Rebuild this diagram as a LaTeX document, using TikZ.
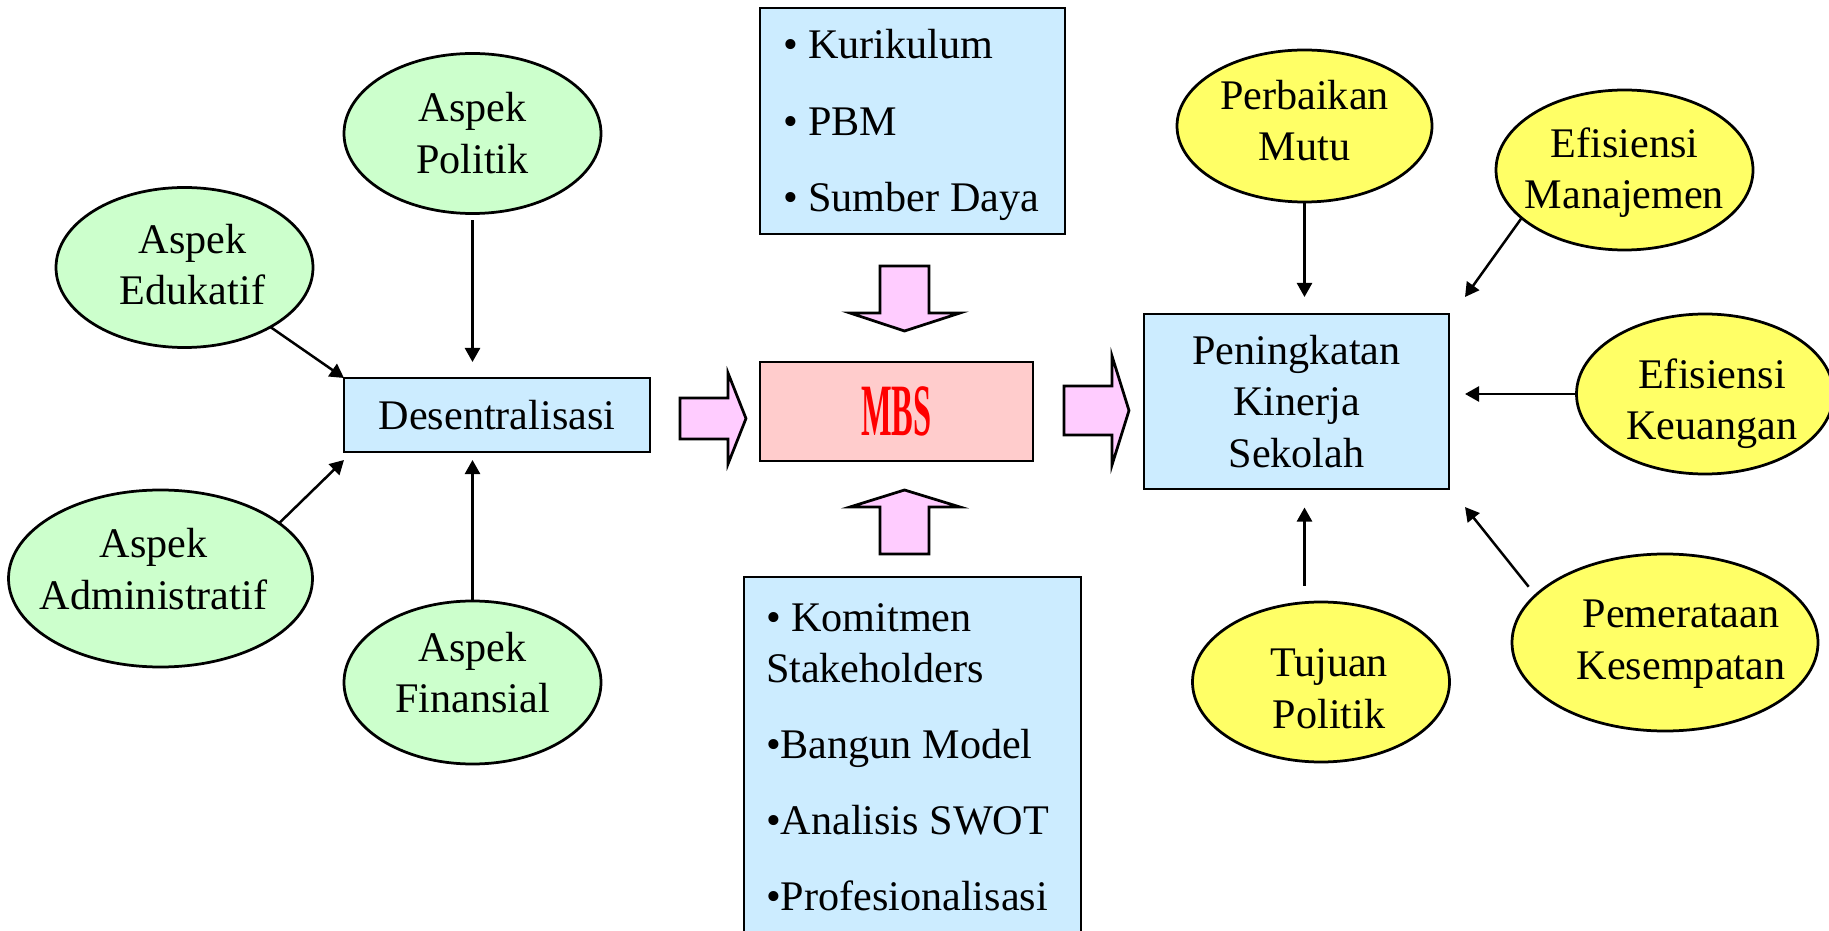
\documentclass[tikz,border=0pt]{standalone}
\usepackage{fontspec}
\setmainfont{Liberation Serif}
\usepackage{graphicx}
\usetikzlibrary{arrows.meta,shapes.geometric}
\definecolor{hijaupucat}{rgb}{0.80,1.00,0.80}
\definecolor{kuningcerah}{rgb}{1.00,1.00,0.40}
\definecolor{birupucat}{rgb}{0.80,0.925,1.00}
\definecolor{merahpucat}{rgb}{1.00,0.80,0.80}
\definecolor{ungupucat}{rgb}{1.00,0.80,1.00}
\tikzset{
  teks/.style={
    font=\fontsize{24}{29.3}\selectfont
  },
  aspek/.style={
    ellipse,
    draw,
    line width=0.55mm,
    fill=hijaupucat,
    align=center,
    inner xsep=-3mm,
    inner ysep=0pt,
    outer sep=0pt,
    minimum width=51.4mm,
    minimum height=32mm,
    text depth=0pt,
    teks
  },
  hasil/.style={
    aspek,
    fill=kuningcerah
  },
  kotak/.style={
    rectangle,
    draw,
    line width=0.5mm,
    fill=birupucat,
    align=center,
    outer sep=0pt,
    teks
  },
  daftar/.style={
    kotak,
    align=flush left,
    anchor=north west,
    inner ysep=4.4mm,
    text height=5.8mm
  },
  blok/.style={
    draw,
    line width=0.55mm,
    fill=ungupucat
  },
  panah/.style={
    -{Triangle[length=2.8mm,width=3mm]},
    line width=0.5mm
  }
}
\begin{document}
\begin{tikzpicture}[x=0.2mm,y=-0.2mm]
\useasboundingbox (0,0) rectangle (1829,931);
\clip (0,0) rectangle (1829,931);
% kiri: aspek desentralisasi
\node[kotak,minimum width=61.2mm,minimum height=14.8mm] (des) at (497,415) {Desentralisasi};
\node[aspek,text height=15.9mm] (pol) at (472.5,133.5) {Aspek\\Politik};
\node[aspek,text height=14.9mm] (edu) at (184.5,267.5) {\hspace*{3.2mm}Aspek\\\hspace*{3.2mm}Edukatif};
\node[aspek,minimum width=60.8mm,minimum height=35.4mm,text height=12.2mm] (adm) at (160.5,578.5)
  {Aspek\hspace*{2.8mm}\\Administratif\hspace*{2.8mm}};
\node[aspek,minimum height=32.6mm,text height=12mm] (fin) at (472.5,682.5) {Aspek\\Finansial};
\draw[panah,shorten <=1.4mm,shorten >=3.2mm] (pol.south) -- (pol.south |- des.north);
\draw[panah] (edu) -- (des.north west);
\draw[panah] (adm.25) -- ([yshift=-1.6mm]des.south west);
\draw[panah,shorten >=1.6mm] (fin.north) -- (fin.north |- des.south);
% tengah: MBS
\node[kotak,fill=merahpucat,minimum width=54.6mm,minimum height=19.8mm,
  text=red,font=\fontsize{42}{42}\selectfont\bfseries] (mbs) at (896.5,411.5) {\scalebox{0.44}[1]{MBS}};
\node[daftar,text width=51.8mm,inner xsep=4.6mm,text depth=30.6mm] (atas) at (760,8)
  {• Kurikulum\\[14pt]• PBM\\[14pt]• Sumber Daya};
\node[daftar,text width=58.6mm,inner xsep=4.4mm,inner ysep=5mm,text depth=64mm] (bawah) at (744,577)
  {• Komitmen\\Stakeholders\\[14pt]•Bangun Model\\[14pt]•Analisis SWOT\\[14pt]•Profesionalisasi};
\draw[blok] (680,398) -- (728,398) -- (728,373) -- (746,418.5) -- (728,464) -- (728,439) -- (680,439) -- cycle;
\draw[blok] (1064,386) -- (1112,386) -- (1112,356) -- (1129,410.5) -- (1112,465) -- (1112,435) -- (1064,435) -- cycle;
\draw[blok] (880,266) -- (929,266) -- (929,313) -- (960,313) -- (904.5,331) -- (850,313) -- (880,313) -- cycle;
\draw[blok] (904.5,490) -- (960,507) -- (929,507) -- (929,554) -- (880,554) -- (880,507) -- (850,507) -- cycle;
% kanan: hasil
\node[kotak,minimum width=61mm,minimum height=35mm] (kinerja) at (1296.5,401.5) {Peningkatan\\Kinerja\\Sekolah};
\node[hasil,minimum width=51mm,minimum height=30.4mm,text height=13.8mm] (mutu) at (1304.5,126) {Perbaikan\\Mutu};
\node[hasil,text height=15.4mm] (manaj) at (1624.5,170) {Efisiensi\\Manajemen};
\node[hasil,text height=18.2mm] (keu) at (1705,394) {\hspace*{2.8mm}Efisiensi\\\hspace*{2.8mm}Keuangan};
\node[hasil,minimum width=61.2mm,minimum height=35.4mm,text height=14.7mm] (pem) at (1665,642.5)
  {\hspace*{6.4mm}Pemerataan\\\hspace*{6.4mm}Kesempatan};
\node[hasil,text height=18.5mm] (tuj) at (1321,682) {\hspace*{3.2mm}Tujuan\\\hspace*{3.2mm}Politik};
\coordinate (kTR) at ([shift={(3.2mm,3.4mm)}]kinerja.north east);
\coordinate (kBR) at ([shift={(3.2mm,-3.6mm)}]kinerja.south east);
\draw[panah,shorten >=3.4mm] (mutu.south) -- (mutu.south |- kinerja.north);
\draw[panah] (manaj.205) -- (kTR);
\draw[panah] (keu.west) -- (keu.west -| kTR);
\draw[panah,shorten <=2.2mm] (pem.160) -- (kBR);
\draw[panah,shorten <=3.2mm,shorten >=3.7mm] (mutu.south |- tuj.north) -- (mutu.south |- kinerja.south);
\end{tikzpicture}
\end{document}
